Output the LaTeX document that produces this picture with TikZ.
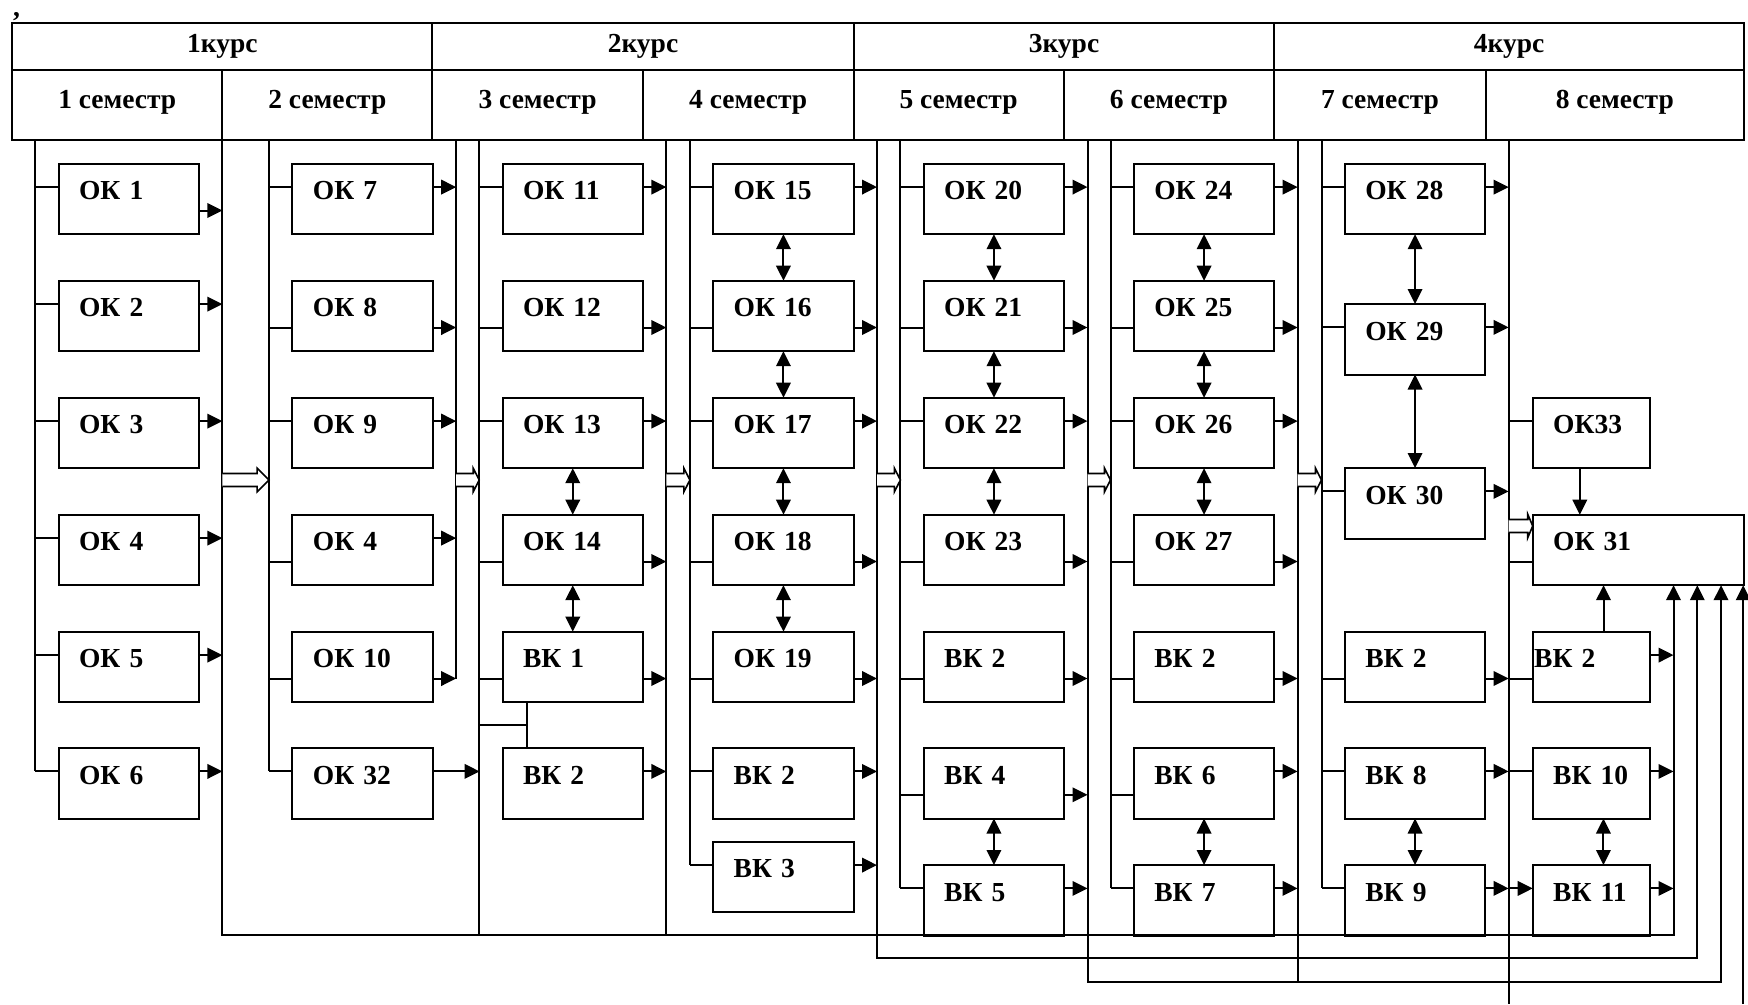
\documentclass[tikz,border=0pt]{standalone}
\usepackage{fontspec}
\setmainfont{Liberation Serif}
\usetikzlibrary{arrows.meta}
\newcommand\bfnt{\fontsize{27.5}{30}\selectfont\bfseries}
\newcommand\gapw{23.3}
\newcommand\conin[2]{\draw[ln] ([yshift=-#2pt]#1.north west) -- ++(-\gapw,0);}
\newcommand\conout[2]{\draw[arr] ([yshift=-#2pt]#1.north east) -- ++(\gapw,0);}
\newcommand\bidi[2]{\draw[dbl] (#1.south) -- (#2.north);}
\newcommand\hollowarr[4]{\draw[hol] (#1,#3-6.5) -- (#2-#4,#3-6.5) -- (#2-#4,#3-11.8) -- (#2,#3) -- (#2-#4,#3+11.8) -- (#2-#4,#3+6.5) -- (#1,#3+6.5);}
\tikzset{
  ln/.style={line width=2pt},
  tip/.tip={Triangle[length=15pt,width=14.5pt]},
  arr/.style={ln,-tip},
  dbl/.style={ln,tip-tip},
  hol/.style={line width=1.6pt,fill=white},
  box/.style={draw,line width=2pt,anchor=north west,outer sep=0pt,
    minimum width=140.5pt,minimum height=70.5pt,inner xsep=20.5pt,inner ysep=0pt,
    text width=99.5pt,align=left,text height=20pt,text depth=18.5pt,font=\bfnt},
  boxn/.style={box,minimum width=117.5pt,text width=76.5pt},
  boxw/.style={box,minimum width=211.3pt,text width=170.3pt},
  kcell/.style={draw,line width=2pt,anchor=north west,outer sep=0pt,inner sep=0pt,
    minimum height=46.7pt,text height=20pt,text depth=7.9pt,font=\bfnt},
  scell/.style={kcell,minimum height=70pt,text depth=13.4pt}
}
\begin{document}
\begin{tikzpicture}[x=1pt,y=-1pt]
\useasboundingbox (0,0) rectangle (1748,1004);
\node[anchor=base west,inner sep=0pt,font=\bfnt] (comma) at (13,16) {,};
% header
\node[kcell,minimum width=420.2pt] (k1) at (12.2,23.3) {1курс};
\node[kcell,minimum width=421.2pt] (k2) at (432.4,23.3) {2курс};
\node[kcell,minimum width=420.8pt] (k3) at (853.6,23.3) {3курс};
\node[kcell,minimum width=469.6pt] (k4) at (1274.4,23.3) {4курс};
\node[scell,minimum width=210.1pt] (s1) at (12.2,70) {1 семестр};
\node[scell,minimum width=210.1pt] (s2) at (222.3,70) {2 семестр};
\node[scell,minimum width=210.4pt] (s3) at (432.4,70) {3 семестр};
\node[scell,minimum width=210.8pt] (s4) at (642.8,70) {4 семестр};
\node[scell,minimum width=209.9pt] (s5) at (853.6,70) {5 семестр};
\node[scell,minimum width=210.9pt] (s6) at (1063.5,70) {6 семестр};
\node[scell,minimum width=211.2pt] (s7) at (1274.4,70) {7 семестр};
\node[scell,minimum width=258.4pt] (s8) at (1485.6,70) {8 семестр};
% semester 1
\node[box] (a1) at (58.6,163.7) {ОК 1};
\node[box] (a2) at (58.6,280.7) {ОК 2};
\node[box] (a3) at (58.6,397.7) {ОК 3};
\node[box] (a4) at (58.6,514.7) {ОК 4};
\node[box] (a5) at (58.6,631.7) {ОК 5};
\node[box] (a6) at (58.6,748) {ОК 6};
% semester 2
\node[box] (b1) at (292.4,163.7) {ОК 7};
\node[box] (b2) at (292.4,280.7) {ОК 8};
\node[box] (b3) at (292.4,397.7) {ОК 9};
\node[box] (b4) at (292.4,514.7) {ОК 4};
\node[box] (b5) at (292.4,631.7) {ОК 10};
\node[box] (b6) at (292.4,748) {ОК 32};
% semester 3
\node[box] (c1) at (502.5,163.7) {ОК 11};
\node[box] (c2) at (502.5,280.7) {ОК 12};
\node[box] (c3) at (502.5,397.7) {ОК 13};
\node[box] (c4) at (502.5,514.7) {ОК 14};
\node[box] (c5) at (502.5,631.7) {ВК 1};
\node[box] (c6) at (502.5,748) {ВК 2};
% semester 4
\node[box] (d1) at (713.2,163.7) {ОК 15};
\node[box] (d2) at (713.2,280.7) {ОК 16};
\node[box] (d3) at (713.2,397.7) {ОК 17};
\node[box] (d4) at (713.2,514.7) {ОК 18};
\node[box] (d5) at (713.2,631.7) {ОК 19};
\node[box] (d6) at (713.2,748) {ВК 2};
\node[box] (d7) at (713.2,841.7) {ВК 3};
% semester 5
\node[box] (e1) at (923.7,163.7) {ОК 20};
\node[box] (e2) at (923.7,280.7) {ОК 21};
\node[box] (e3) at (923.7,397.7) {ОК 22};
\node[box] (e4) at (923.7,514.7) {ОК 23};
\node[box] (e5) at (923.7,631.7) {ВК 2};
\node[box] (e6) at (923.7,748) {ВК 4};
\node[box] (e7) at (923.7,865) {ВК 5};
% semester 6
\node[box] (f1) at (1133.8,163.7) {ОК 24};
\node[box] (f2) at (1133.8,280.7) {ОК 25};
\node[box] (f3) at (1133.8,397.7) {ОК 26};
\node[box] (f4) at (1133.8,514.7) {ОК 27};
\node[box] (f5) at (1133.8,631.7) {ВК 2};
\node[box] (f6) at (1133.8,748) {ВК 6};
\node[box] (f7) at (1133.8,865) {ВК 7};
% semester 7
\node[box] (g1) at (1344.8,163.7) {ОК 28};
\node[box] (g2) at (1344.8,304) {ОК 29};
\node[box] (g3) at (1344.8,468) {ОК 30};
\node[box] (g4) at (1344.8,631.7) {ВК 2};
\node[box] (g5) at (1344.8,748) {ВК 8};
\node[box] (g6) at (1344.8,865) {ВК 9};
% semester 8
\node[boxn] (h1) at (1532.7,397.7) {ОК33};
\node[boxw] (h2) at (1532.7,514.7) {ОК 31};
\node[boxn,inner xsep=1.5pt,text width=114.5pt] (h3) at (1532.7,631.7) {ВК 2};
\node[boxn] (h4) at (1532.7,748) {ВК 10};
\node[boxn] (h5) at (1532.7,865) {ВК 11};
% buses
\coordinate (i1) at (35.3,140);   \coordinate (o1) at (222.4,140);
\coordinate (i2) at (269.1,140);  \coordinate (o2) at (456.2,140);
\coordinate (i3) at (479.2,140);  \coordinate (o3) at (666.3,140);
\coordinate (i4) at (689.9,140);  \coordinate (o4) at (877,140);
\coordinate (i5) at (900.4,140);  \coordinate (o5) at (1087.5,140);
\coordinate (i6) at (1110.5,140); \coordinate (o6) at (1297.6,140);
\coordinate (i7) at (1321.5,140); \coordinate (o7) at (1508.6,140);
\draw[ln] (i1) -- (35.3,771.4);
\draw[ln] (i2) -- (269.1,771.4);
\draw[ln] (o2) -- (456.2,678.5);
\draw[ln] (i4) -- (689.9,865.1);
\draw[ln] (i5) -- (900.4,888.4);
\draw[ln] (i6) -- (1110.5,888.4);
\draw[ln] (i7) -- (1321.5,888.4);
\draw[ln] (o7) -- (1508.6,1004);
\draw[ln] (i3) -- (479.2,935.3);
\draw[ln] (o3) -- (666.3,935.3);
\draw[ln] (o6) -- (1297.6,981.7);
\draw[arr] (o1) -- (222.4,935.3) -- (1673.5,935.3) -- (h2.south -| 1673.5,0);
\draw[arr] (o4) -- (877,958.3) -- (1697.3,958.3) -- (h2.south -| 1697.3,0);
\draw[arr] (o5) -- (1087.5,981.7) -- (1721,981.7) -- (h2.south -| 1721,0);
\coordinate (lowend) at (1743.2,1004);
\draw[arr] (lowend) -- (h2.south -| lowend);
% hollow arrows
\hollowarr{222.4}{269.1}{480}{12}
\hollowarr{456.2}{479.2}{480}{6}
\hollowarr{666.3}{689.9}{480}{6}
\hollowarr{877}{900.4}{480}{6}
\hollowarr{1087.5}{1110.5}{480}{6}
\hollowarr{1297.6}{1321.5}{480}{6}
\hollowarr{1508.6}{1532.7}{526}{5}
% semester 1 connectors
\conin{a1}{23.4}\conout{a1}{46.8}
\conin{a2}{23.4}\conout{a2}{23.4}
\conin{a3}{23.4}\conout{a3}{23.4}
\conin{a4}{23.4}\conout{a4}{23.4}
\conin{a5}{23.4}\conout{a5}{23.4}
\conin{a6}{23.4}\conout{a6}{23.4}
% semester 2
\conin{b1}{23.4}\conout{b1}{23.4}
\conin{b2}{46.8}\conout{b2}{46.8}
\conin{b3}{23.4}\conout{b3}{23.4}
\conin{b4}{46.8}\conout{b4}{23.4}
\conin{b5}{46.8}\conout{b5}{46.8}
\conin{b6}{23.4}
\draw[arr] ([yshift=-23.4pt]b6.north east) -- ++(46.7,0);
% semester 3
\conin{c1}{23.4}\conout{c1}{23.4}
\conin{c2}{46.8}\conout{c2}{46.8}
\conin{c3}{23.4}\conout{c3}{23.4}
\conin{c4}{46.8}\conout{c4}{46.8}
\conin{c5}{46.8}\conout{c5}{46.8}
\conout{c6}{23.4}
\coordinate (j3) at ([xshift=24.1pt]c5.south west);
\coordinate (j3b) at (479.2,725);
\draw[ln] (j3) -- (j3 |- c6.north);
\draw[ln] (j3b) -- (j3 |- j3b);
\bidi{c3}{c4}\bidi{c4}{c5}
% semester 4
\conin{d1}{23.4}\conout{d1}{23.4}
\conin{d2}{46.8}\conout{d2}{46.8}
\conin{d3}{23.4}\conout{d3}{23.4}
\conin{d4}{46.8}\conout{d4}{46.8}
\conin{d5}{46.8}\conout{d5}{46.8}
\conin{d6}{23.4}\conout{d6}{23.4}
\conin{d7}{23.4}\conout{d7}{23.4}
\bidi{d1}{d2}\bidi{d2}{d3}\bidi{d3}{d4}\bidi{d4}{d5}
% semester 5
\conin{e1}{23.4}\conout{e1}{23.4}
\conin{e2}{46.8}\conout{e2}{46.8}
\conin{e3}{23.4}\conout{e3}{23.4}
\conin{e4}{46.8}\conout{e4}{46.8}
\conin{e5}{46.8}\conout{e5}{46.8}
\conin{e6}{46.8}\conout{e6}{46.8}
\conin{e7}{23.4}\conout{e7}{23.4}
\bidi{e1}{e2}\bidi{e2}{e3}\bidi{e3}{e4}\bidi{e6}{e7}
% semester 6
\conin{f1}{23.4}\conout{f1}{23.4}
\conin{f2}{46.8}\conout{f2}{46.8}
\conin{f3}{23.4}\conout{f3}{23.4}
\conin{f4}{46.8}\conout{f4}{46.8}
\conin{f5}{46.8}\conout{f5}{46.8}
\conin{f6}{46.8}\conout{f6}{23.4}
\conin{f7}{23.4}\conout{f7}{23.4}
\bidi{f1}{f2}\bidi{f2}{f3}\bidi{f3}{f4}\bidi{f6}{f7}
% semester 7
\conin{g1}{23.4}\conout{g1}{23.4}
\conin{g2}{23.4}\conout{g2}{23.4}
\conin{g3}{23.4}\conout{g3}{23.4}
\conin{g4}{46.8}\conout{g4}{46.8}
\conin{g5}{23.4}\conout{g5}{23.4}
\conin{g6}{23.4}\conout{g6}{23.4}
\bidi{g1}{g2}\bidi{g2}{g3}\bidi{g5}{g6}
% semester 8
\conin{h1}{23.4}
\conin{h2}{46.8}
\conin{h3}{46.8}\conout{h3}{23.4}
\conin{h4}{23.4}\conout{h4}{23.4}
\coordinate (q5) at ([yshift=-23.4pt]h5.north west);
\draw[arr] ([xshift=-23.3pt]q5) -- (q5);
\conout{h5}{23.4}
\coordinate (p1) at ([xshift=47.1pt]h1.south west);
\draw[arr] (p1) -- (p1 |- h2.north);
\coordinate (p2) at ([xshift=70.8pt]h3.north west);
\draw[arr] (p2) -- (p2 |- h2.south);
\draw[dbl] ([xshift=12pt]h4.south) -- ([xshift=12pt]h5.north);
\end{tikzpicture}
\end{document}
